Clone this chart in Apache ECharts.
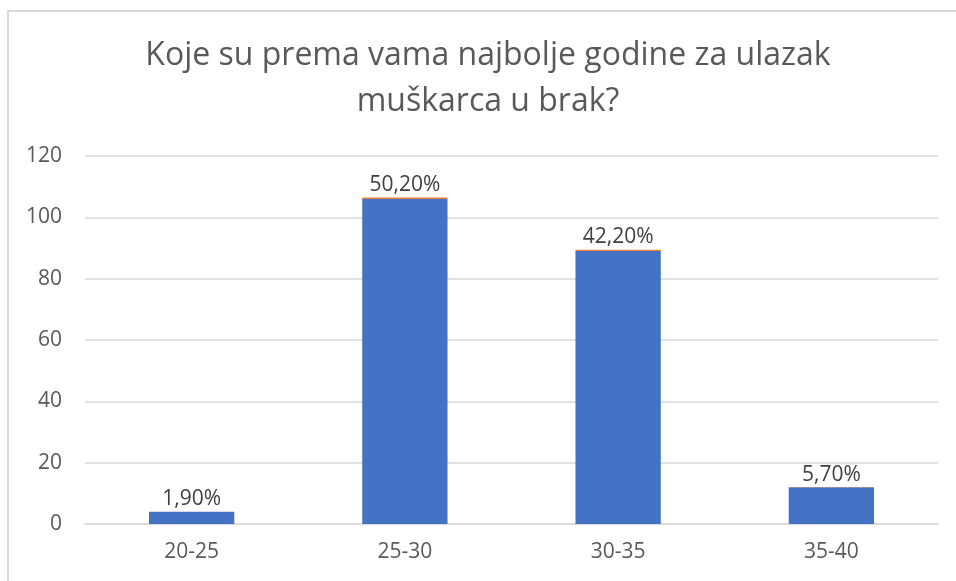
<!DOCTYPE html>
<html>
<head>
<meta charset="utf-8">
<script src="https://cdn.jsdelivr.net/npm/echarts@6/dist/echarts.min.js"></script>
<style>html,body{margin:0;padding:0;background:#fff;}#c{width:956px;height:581px;}</style>
</head>
<body>
<div id="c"></div>
<script>
const categories = ['20-25', '25-30', '30-35', '35-40'];
const counts = [4, 106, 89, 12];
const percents = [1.9, 50.2, 42.2, 5.7];
const yTicks = [0, 20, 40, 60, 80, 100, 120];
const titleText = 'Koje su prema vama najbolje godine za ulazak\nmuškarca u brak?';

const chart = echarts.init(document.getElementById('c'));
const font = '"Open Sans", sans-serif';
chart.setOption({
  animation: false,
  backgroundColor: '#fff',
  graphic: [
    { type: 'line', shape: { x1: 7, y1: 11, x2: 956, y2: 11 }, style: { stroke: '#d9d9d9', lineWidth: 2 }, silent: true },
    { type: 'line', shape: { x1: 8, y1: 10, x2: 8, y2: 581 }, style: { stroke: '#d9d9d9', lineWidth: 2 }, silent: true },
    {
      type: 'text', x: 488, y: 33, silent: true,
      style: {
        text: titleText, align: 'center', verticalAlign: 'top',
        fontFamily: font, fontSize: 32, fontWeight: 'normal', fill: '#595959', lineHeight: 46
      }
    }
  ],
  grid: { left: 85, right: 18, top: 156, bottom: 57, containLabel: false },
  xAxis: {
    type: 'category',
    data: categories,
    axisLine: { lineStyle: { color: '#d9d9d9', width: 1.5 } },
    axisTick: { show: false },
    axisLabel: { fontFamily: font, fontSize: 21, color: '#595959', margin: 18 }
  },
  yAxis: {
    type: 'value',
    min: yTicks[0], max: yTicks[yTicks.length - 1], interval: 20,
    axisLine: { show: false },
    axisTick: { show: false },
    splitLine: { lineStyle: { color: '#d9d9d9', width: 1.5 } },
    axisLabel: { fontFamily: font, fontSize: 21, color: '#595959', margin: 23 }
  },
  series: [
    {
      type: 'bar', stack: 'a', data: counts, barWidth: '40%',
      itemStyle: { color: '#4472c4' }
    },
    {
      type: 'bar', stack: 'a', data: percents.map(p => p / 100), barWidth: '40%',
      itemStyle: { color: '#ed7d31' },
      label: {
        show: true, position: 'top', distance: 2,
        fontFamily: font, fontSize: 21, color: '#404040',
        formatter: p => percents[p.dataIndex].toFixed(2).replace('.', ',') + '%'
      }
    }
  ]
});
</script>
</body>
</html>
